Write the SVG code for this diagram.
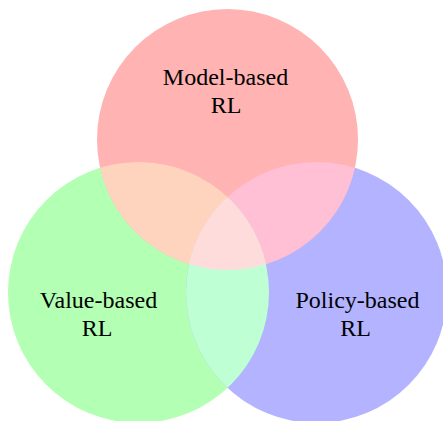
<svg xmlns="http://www.w3.org/2000/svg" width="443" height="421" viewBox="0 0 443 421">
<style>
text{font-family:"Liberation Serif","DejaVu Serif",serif;font-size:24px;fill:#000;text-anchor:middle}
</style>
<defs>
<circle id="cR" cx="227.5" cy="139.5" r="130.5"/>
<circle id="cG" cx="138.5" cy="292.5" r="130.5"/>
<circle id="cB" cx="316.5" cy="292.5" r="130.5"/>
<clipPath id="clipR"><use href="#cR"/></clipPath>
<clipPath id="clipG"><use href="#cG"/></clipPath>
<clipPath id="clipB"><use href="#cB"/></clipPath>
</defs>
<rect width="443" height="421" fill="#fff"/>
<g id="value-based"><use href="#cG" fill="#b3ffb3"/></g>
<g id="policy-based"><use href="#cB" fill="#b3b3ff"/></g>
<g id="model-based"><use href="#cR" fill="#ffb3b3"/></g>
<g id="overlaps">
<g clip-path="url(#clipR)"><use href="#cG" fill="#ffd4bf"/></g>
<g clip-path="url(#clipR)"><use href="#cB" fill="#ffbfd4"/></g>
<g clip-path="url(#clipG)"><use href="#cB" fill="#bfffd4"/></g>
<g clip-path="url(#clipR)"><g clip-path="url(#clipG)"><use href="#cB" fill="#ffdcdc"/></g></g>
</g>
<g id="labels">
<text x="225.5" y="85">Model-based</text>
<text x="226" y="113">RL</text>
<text x="98.5" y="308">Value-based</text>
<text x="97" y="336">RL</text>
<text x="357.5" y="308">Policy-based</text>
<text x="355.5" y="336">RL</text>
</g>
</svg>
